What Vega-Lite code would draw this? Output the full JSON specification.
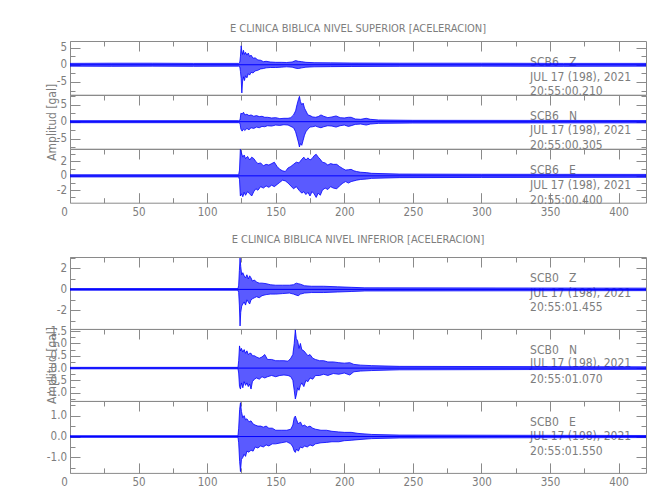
{
"$schema":"https://vega.github.io/schema/vega-lite/v6.json",
"padding":{"left":44,"top":22,"right":4,"bottom":4},
"background":"white",
"config":{
 "font":"Liberation Sans Narrow, DejaVu Sans Condensed, sans-serif",
 "view":{"stroke":"#8a8a8a","strokeWidth":1},
 "axis":{"domain":false,"grid":false,"tickColor":"#8a8a8a","tickWidth":1,"labelColor":"#7d7d7d","labelFontSize":11.5,"titleColor":"#7d7d7d","titleFontSize":12,"titleFontWeight":"normal"},
 "title":{"fontSize":11,"fontWeight":"normal","color":"#7d7d7d","offset":7,"baseline":"alphabetic","frame":"group","anchor":"middle"}
},
"datasets":{
"w":[
{"p":"A1","t":0,"lo":-0.4,"hi":0.4},{"p":"A1","t":30,"lo":-0.45,"hi":0.45},{"p":"A1","t":60,"lo":-0.4,"hi":0.45},{"p":"A1","t":90,"lo":-0.45,"hi":0.4},{"p":"A1","t":123,"lo":-0.4,"hi":0.4},{"p":"A1","t":123.8,"lo":-0.6,"hi":0.7},{"p":"A1","t":124.3,"lo":-2,"hi":2.5},{"p":"A1","t":124.8,"lo":-4,"hi":5.5},{"p":"A1","t":125.3,"lo":-8.2,"hi":4},{"p":"A1","t":125.8,"lo":-5,"hi":3},{"p":"A1","t":126.5,"lo":-3.5,"hi":4.2},{"p":"A1","t":127.2,"lo":-4.6,"hi":3},{"p":"A1","t":128,"lo":-3.2,"hi":3.6},{"p":"A1","t":129,"lo":-3.8,"hi":2.8},{"p":"A1","t":130,"lo":-2.6,"hi":3.4},{"p":"A1","t":131,"lo":-3,"hi":2.4},{"p":"A1","t":132,"lo":-2.2,"hi":2.8},{"p":"A1","t":133.5,"lo":-2.4,"hi":1.9},{"p":"A1","t":135,"lo":-1.8,"hi":2},{"p":"A1","t":137,"lo":-1.6,"hi":1.4},{"p":"A1","t":139,"lo":-1.2,"hi":1.3},{"p":"A1","t":141,"lo":-1.1,"hi":0.9},{"p":"A1","t":143,"lo":-0.9,"hi":1},{"p":"A1","t":146,"lo":-0.8,"hi":0.8},{"p":"A1","t":150,"lo":-0.8,"hi":0.7},{"p":"A1","t":154,"lo":-0.7,"hi":0.7},{"p":"A1","t":158,"lo":-0.6,"hi":0.65},{"p":"A1","t":162,"lo":-0.7,"hi":0.8},{"p":"A1","t":164.5,"lo":-1,"hi":1.2},{"p":"A1","t":166.5,"lo":-1.1,"hi":1},{"p":"A1","t":169,"lo":-0.9,"hi":0.9},{"p":"A1","t":172,"lo":-0.7,"hi":0.7},{"p":"A1","t":178,"lo":-0.6,"hi":0.6},{"p":"A1","t":190,"lo":-0.55,"hi":0.55},{"p":"A1","t":205,"lo":-0.5,"hi":0.5},{"p":"A1","t":240,"lo":-0.45,"hi":0.45},{"p":"A1","t":300,"lo":-0.4,"hi":0.45},{"p":"A1","t":360,"lo":-0.45,"hi":0.4},{"p":"A1","t":420,"lo":-0.4,"hi":0.4},
{"p":"A2","t":0,"lo":-0.3,"hi":0.3},{"p":"A2","t":123,"lo":-0.3,"hi":0.3},{"p":"A2","t":124,"lo":-0.5,"hi":0.5},{"p":"A2","t":124.6,"lo":-2.2,"hi":2.5},{"p":"A2","t":125.5,"lo":-2.8,"hi":2.3},{"p":"A2","t":126.5,"lo":-2.2,"hi":2.8},{"p":"A2","t":127.5,"lo":-2.6,"hi":2},{"p":"A2","t":129,"lo":-2,"hi":2.2},{"p":"A2","t":130.5,"lo":-2.4,"hi":1.8},{"p":"A2","t":132,"lo":-1.8,"hi":2},{"p":"A2","t":134,"lo":-2,"hi":1.6},{"p":"A2","t":136,"lo":-1.6,"hi":1.8},{"p":"A2","t":138,"lo":-1.8,"hi":1.5},{"p":"A2","t":140,"lo":-1.4,"hi":1.6},{"p":"A2","t":142,"lo":-1.5,"hi":1.3},{"p":"A2","t":144,"lo":-1.2,"hi":1.3},{"p":"A2","t":147,"lo":-1.3,"hi":1.1},{"p":"A2","t":150,"lo":-1,"hi":1.2},{"p":"A2","t":153,"lo":-1.1,"hi":0.9},{"p":"A2","t":156,"lo":-0.9,"hi":1},{"p":"A2","t":159,"lo":-1,"hi":1},{"p":"A2","t":161,"lo":-1.4,"hi":1.2},{"p":"A2","t":163,"lo":-1.8,"hi":2},{"p":"A2","t":164.5,"lo":-3,"hi":3.2},{"p":"A2","t":165.5,"lo":-4.5,"hi":5},{"p":"A2","t":166.5,"lo":-6,"hi":6.5},{"p":"A2","t":167.3,"lo":-7.5,"hi":7.5},{"p":"A2","t":168,"lo":-6.5,"hi":6},{"p":"A2","t":169,"lo":-7,"hi":5},{"p":"A2","t":170,"lo":-5.5,"hi":5.5},{"p":"A2","t":171,"lo":-4,"hi":4},{"p":"A2","t":172,"lo":-3,"hi":3.2},{"p":"A2","t":173.5,"lo":-2.2,"hi":2},{"p":"A2","t":175,"lo":-1.6,"hi":1.8},{"p":"A2","t":177,"lo":-1.5,"hi":1.4},{"p":"A2","t":179,"lo":-1.3,"hi":1.3},{"p":"A2","t":181,"lo":-1.6,"hi":1.5},{"p":"A2","t":183,"lo":-1.8,"hi":2},{"p":"A2","t":185,"lo":-1.5,"hi":1.6},{"p":"A2","t":188,"lo":-1.2,"hi":1.2},{"p":"A2","t":191,"lo":-1.3,"hi":1.4},{"p":"A2","t":194,"lo":-1.6,"hi":1.7},{"p":"A2","t":197,"lo":-1.2,"hi":1.2},{"p":"A2","t":200,"lo":-1,"hi":1.1},{"p":"A2","t":203,"lo":-1.4,"hi":1.3},{"p":"A2","t":205,"lo":-1.2,"hi":1.3},{"p":"A2","t":208,"lo":-0.8,"hi":0.8},{"p":"A2","t":212,"lo":-0.7,"hi":0.7},{"p":"A2","t":216,"lo":-1,"hi":1},{"p":"A2","t":219,"lo":-0.7,"hi":0.7},{"p":"A2","t":225,"lo":-0.5,"hi":0.5},{"p":"A2","t":250,"lo":-0.4,"hi":0.4},{"p":"A2","t":420,"lo":-0.35,"hi":0.35},
{"p":"A3","t":0,"lo":-0.15,"hi":0.15},{"p":"A3","t":123,"lo":-0.15,"hi":0.15},{"p":"A3","t":123.6,"lo":-0.5,"hi":0.8},{"p":"A3","t":124.2,"lo":-2.8,"hi":3.7},{"p":"A3","t":125,"lo":-2.5,"hi":3.2},{"p":"A3","t":126,"lo":-2.9,"hi":2.6},{"p":"A3","t":127,"lo":-2.3,"hi":2.9},{"p":"A3","t":128,"lo":-2.7,"hi":2.4},{"p":"A3","t":129.5,"lo":-2.2,"hi":2.7},{"p":"A3","t":131,"lo":-2.5,"hi":2.2},{"p":"A3","t":132.5,"lo":-2.8,"hi":2.6},{"p":"A3","t":134,"lo":-2.2,"hi":2.4},{"p":"A3","t":135.5,"lo":-1.8,"hi":2},{"p":"A3","t":137,"lo":-2,"hi":1.7},{"p":"A3","t":139,"lo":-1.5,"hi":1.8},{"p":"A3","t":141,"lo":-1.7,"hi":1.4},{"p":"A3","t":143,"lo":-1.4,"hi":1.6},{"p":"A3","t":145,"lo":-1.6,"hi":1.5},{"p":"A3","t":147,"lo":-1.3,"hi":1.7},{"p":"A3","t":149,"lo":-1.5,"hi":1.9},{"p":"A3","t":151,"lo":-1.2,"hi":1.3},{"p":"A3","t":153,"lo":-0.9,"hi":0.9},{"p":"A3","t":155,"lo":-0.6,"hi":0.7},{"p":"A3","t":157,"lo":-0.7,"hi":0.6},{"p":"A3","t":159,"lo":-1,"hi":1.1},{"p":"A3","t":161,"lo":-1.4,"hi":1.3},{"p":"A3","t":163,"lo":-1.8,"hi":1.6},{"p":"A3","t":165,"lo":-1.5,"hi":1.9},{"p":"A3","t":167,"lo":-2,"hi":1.8},{"p":"A3","t":169,"lo":-2.4,"hi":2.3},{"p":"A3","t":170.5,"lo":-2.2,"hi":2.6},{"p":"A3","t":172,"lo":-2.6,"hi":2.2},{"p":"A3","t":173.5,"lo":-2.3,"hi":2.5},{"p":"A3","t":175,"lo":-2.8,"hi":2.2},{"p":"A3","t":176.5,"lo":-2.2,"hi":2.4},{"p":"A3","t":178,"lo":-2.5,"hi":2.8},{"p":"A3","t":179.5,"lo":-3,"hi":3},{"p":"A3","t":181,"lo":-2.4,"hi":2.6},{"p":"A3","t":182.5,"lo":-2.7,"hi":2.3},{"p":"A3","t":184,"lo":-2,"hi":1.9},{"p":"A3","t":186,"lo":-1.7,"hi":1.8},{"p":"A3","t":188,"lo":-1.9,"hi":1.5},{"p":"A3","t":190,"lo":-1.5,"hi":1.7},{"p":"A3","t":192,"lo":-1.7,"hi":1.6},{"p":"A3","t":194.5,"lo":-1.8,"hi":1.6},{"p":"A3","t":196.5,"lo":-1.4,"hi":1.3},{"p":"A3","t":199,"lo":-1,"hi":1},{"p":"A3","t":201,"lo":-0.8,"hi":0.8},{"p":"A3","t":203,"lo":-1,"hi":0.85},{"p":"A3","t":205,"lo":-0.8,"hi":0.9},{"p":"A3","t":207,"lo":-0.7,"hi":0.7},{"p":"A3","t":209,"lo":-0.6,"hi":0.6},{"p":"A3","t":212,"lo":-0.5,"hi":0.5},{"p":"A3","t":216,"lo":-0.45,"hi":0.45},{"p":"A3","t":220,"lo":-0.35,"hi":0.35},{"p":"A3","t":240,"lo":-0.25,"hi":0.25},{"p":"A3","t":300,"lo":-0.22,"hi":0.22},{"p":"A3","t":420,"lo":-0.2,"hi":0.2},
{"p":"B1","t":0,"lo":-0.08,"hi":0.08},{"p":"B1","t":122.5,"lo":-0.08,"hi":0.08},{"p":"B1","t":123,"lo":-0.3,"hi":0.4},{"p":"B1","t":123.5,"lo":-1.5,"hi":1.8},{"p":"B1","t":124,"lo":-3.5,"hi":3},{"p":"B1","t":124.5,"lo":-2.2,"hi":2.2},{"p":"B1","t":125.2,"lo":-1.6,"hi":1.4},{"p":"B1","t":126,"lo":-1.4,"hi":1.6},{"p":"B1","t":127,"lo":-1.2,"hi":1.3},{"p":"B1","t":128,"lo":-1.5,"hi":1.1},{"p":"B1","t":129,"lo":-1,"hi":1.4},{"p":"B1","t":130,"lo":-1.2,"hi":1},{"p":"B1","t":131,"lo":-1.4,"hi":1.3},{"p":"B1","t":132,"lo":-1,"hi":1.1},{"p":"B1","t":133,"lo":-0.9,"hi":0.8},{"p":"B1","t":134.5,"lo":-0.8,"hi":0.9},{"p":"B1","t":136,"lo":-0.7,"hi":0.7},{"p":"B1","t":138,"lo":-0.8,"hi":0.6},{"p":"B1","t":140,"lo":-0.6,"hi":0.6},{"p":"B1","t":143,"lo":-0.5,"hi":0.55},{"p":"B1","t":146,"lo":-0.45,"hi":0.45},{"p":"B1","t":150,"lo":-0.45,"hi":0.4},{"p":"B1","t":155,"lo":-0.4,"hi":0.4},{"p":"B1","t":160,"lo":-0.35,"hi":0.4},{"p":"B1","t":163,"lo":-0.45,"hi":0.45},{"p":"B1","t":165,"lo":-0.55,"hi":0.6},{"p":"B1","t":166.5,"lo":-0.6,"hi":0.55},{"p":"B1","t":168,"lo":-0.45,"hi":0.5},{"p":"B1","t":171,"lo":-0.35,"hi":0.35},{"p":"B1","t":176,"lo":-0.3,"hi":0.3},{"p":"B1","t":185,"lo":-0.3,"hi":0.3},{"p":"B1","t":195,"lo":-0.25,"hi":0.25},{"p":"B1","t":205,"lo":-0.2,"hi":0.2},{"p":"B1","t":215,"lo":-0.15,"hi":0.15},{"p":"B1","t":420,"lo":-0.12,"hi":0.12},
{"p":"B2","t":0,"lo":-0.03,"hi":0.03},{"p":"B2","t":122.5,"lo":-0.03,"hi":0.03},{"p":"B2","t":123,"lo":-0.2,"hi":0.3},{"p":"B2","t":123.6,"lo":-0.75,"hi":0.9},{"p":"B2","t":124.3,"lo":-0.85,"hi":0.7},{"p":"B2","t":125,"lo":-0.6,"hi":0.8},{"p":"B2","t":126,"lo":-0.8,"hi":0.65},{"p":"B2","t":127,"lo":-0.55,"hi":0.75},{"p":"B2","t":128,"lo":-0.7,"hi":0.6},{"p":"B2","t":129,"lo":-0.6,"hi":0.7},{"p":"B2","t":130,"lo":-0.75,"hi":0.55},{"p":"B2","t":131,"lo":-0.65,"hi":0.6},{"p":"B2","t":132,"lo":-0.85,"hi":0.6},{"p":"B2","t":133,"lo":-0.55,"hi":0.5},{"p":"B2","t":134.5,"lo":-0.45,"hi":0.5},{"p":"B2","t":136,"lo":-0.4,"hi":0.45},{"p":"B2","t":138,"lo":-0.45,"hi":0.4},{"p":"B2","t":140,"lo":-0.35,"hi":0.45},{"p":"B2","t":142,"lo":-0.4,"hi":0.55},{"p":"B2","t":144,"lo":-0.35,"hi":0.35},{"p":"B2","t":147,"lo":-0.3,"hi":0.35},{"p":"B2","t":150,"lo":-0.35,"hi":0.3},{"p":"B2","t":153,"lo":-0.3,"hi":0.3},{"p":"B2","t":156,"lo":-0.28,"hi":0.3},{"p":"B2","t":159,"lo":-0.3,"hi":0.28},{"p":"B2","t":161,"lo":-0.35,"hi":0.4},{"p":"B2","t":162.5,"lo":-0.5,"hi":0.55},{"p":"B2","t":163.5,"lo":-0.9,"hi":1},{"p":"B2","t":164.3,"lo":-1.25,"hi":1.55},{"p":"B2","t":165,"lo":-1.1,"hi":1.2},{"p":"B2","t":166,"lo":-0.8,"hi":1.1},{"p":"B2","t":167,"lo":-0.9,"hi":0.8},{"p":"B2","t":168,"lo":-0.7,"hi":1},{"p":"B2","t":169,"lo":-0.6,"hi":0.75},{"p":"B2","t":170.5,"lo":-0.75,"hi":0.7},{"p":"B2","t":172,"lo":-0.5,"hi":0.6},{"p":"B2","t":173.5,"lo":-0.55,"hi":0.5},{"p":"B2","t":175,"lo":-0.4,"hi":0.55},{"p":"B2","t":177,"lo":-0.45,"hi":0.4},{"p":"B2","t":179,"lo":-0.3,"hi":0.35},{"p":"B2","t":182,"lo":-0.3,"hi":0.3},{"p":"B2","t":185,"lo":-0.25,"hi":0.3},{"p":"B2","t":188,"lo":-0.3,"hi":0.25},{"p":"B2","t":192,"lo":-0.22,"hi":0.25},{"p":"B2","t":196,"lo":-0.25,"hi":0.22},{"p":"B2","t":200,"lo":-0.2,"hi":0.2},{"p":"B2","t":204,"lo":-0.28,"hi":0.22},{"p":"B2","t":207,"lo":-0.15,"hi":0.15},{"p":"B2","t":212,"lo":-0.12,"hi":0.12},{"p":"B2","t":220,"lo":-0.1,"hi":0.1},{"p":"B2","t":240,"lo":-0.07,"hi":0.07},{"p":"B2","t":420,"lo":-0.05,"hi":0.05},
{"p":"B3","t":0,"lo":-0.04,"hi":0.04},{"p":"B3","t":122.5,"lo":-0.04,"hi":0.04},{"p":"B3","t":123,"lo":-0.3,"hi":0.4},{"p":"B3","t":123.7,"lo":-1.2,"hi":1.3},{"p":"B3","t":124.3,"lo":-1.68,"hi":1.62},{"p":"B3","t":125,"lo":-1.1,"hi":1.2},{"p":"B3","t":126,"lo":-1,"hi":0.9},{"p":"B3","t":127,"lo":-0.85,"hi":1},{"p":"B3","t":128,"lo":-0.95,"hi":0.8},{"p":"B3","t":129,"lo":-0.7,"hi":0.85},{"p":"B3","t":130.5,"lo":-0.75,"hi":0.7},{"p":"B3","t":132,"lo":-0.65,"hi":0.75},{"p":"B3","t":133.5,"lo":-0.7,"hi":0.6},{"p":"B3","t":135,"lo":-0.5,"hi":0.55},{"p":"B3","t":137,"lo":-0.55,"hi":0.5},{"p":"B3","t":139,"lo":-0.45,"hi":0.5},{"p":"B3","t":141,"lo":-0.5,"hi":0.45},{"p":"B3","t":143,"lo":-0.4,"hi":0.5},{"p":"B3","t":145,"lo":-0.45,"hi":0.4},{"p":"B3","t":147.5,"lo":-0.35,"hi":0.4},{"p":"B3","t":150,"lo":-0.35,"hi":0.3},{"p":"B3","t":154,"lo":-0.3,"hi":0.3},{"p":"B3","t":158,"lo":-0.25,"hi":0.3},{"p":"B3","t":161,"lo":-0.35,"hi":0.35},{"p":"B3","t":162.5,"lo":-0.5,"hi":0.55},{"p":"B3","t":163.5,"lo":-0.7,"hi":0.9},{"p":"B3","t":164.3,"lo":-0.76,"hi":0.98},{"p":"B3","t":165.2,"lo":-0.6,"hi":0.8},{"p":"B3","t":166.5,"lo":-0.7,"hi":0.6},{"p":"B3","t":168,"lo":-0.5,"hi":0.7},{"p":"B3","t":169.5,"lo":-0.55,"hi":0.5},{"p":"B3","t":171,"lo":-0.45,"hi":0.55},{"p":"B3","t":173,"lo":-0.5,"hi":0.45},{"p":"B3","t":175,"lo":-0.4,"hi":0.5},{"p":"B3","t":177,"lo":-0.45,"hi":0.4},{"p":"B3","t":179,"lo":-0.35,"hi":0.35},{"p":"B3","t":183,"lo":-0.3,"hi":0.3},{"p":"B3","t":187,"lo":-0.28,"hi":0.3},{"p":"B3","t":191,"lo":-0.25,"hi":0.25},{"p":"B3","t":196,"lo":-0.25,"hi":0.22},{"p":"B3","t":200,"lo":-0.2,"hi":0.2},{"p":"B3","t":205,"lo":-0.18,"hi":0.2},{"p":"B3","t":210,"lo":-0.15,"hi":0.15},{"p":"B3","t":220,"lo":-0.1,"hi":0.1},{"p":"B3","t":240,"lo":-0.07,"hi":0.07},{"p":"B3","t":420,"lo":-0.05,"hi":0.05}
],
"lab":[
{"p":"A1","t":335.5,"y":0.76,"s":"SCB6\u00a0\u00a0\u00a0Z"},{"p":"A1","t":335.5,"y":-3.46,"s":"JUL 17 (198), 2021"},{"p":"A1","t":335.5,"y":-7.56,"s":"20:55:00.210"},
{"p":"A2","t":335.5,"y":1.76,"s":"SCB6\u00a0\u00a0\u00a0N"},{"p":"A2","t":335.5,"y":-2.59,"s":"JUL 17 (198), 2021"},{"p":"A2","t":335.5,"y":-6.76,"s":"20:55:00.305"},
{"p":"A3","t":335.5,"y":0.77,"s":"SCB6\u00a0\u00a0\u00a0E"},{"p":"A3","t":335.5,"y":-1.23,"s":"JUL 17 (198), 2021"},{"p":"A3","t":335.5,"y":-3.29,"s":"20:55:00.400"},
{"p":"B1","t":335.5,"y":1.09,"s":"SCB0\u00a0\u00a0\u00a0Z"},{"p":"B1","t":335.5,"y":-0.32,"s":"JUL 17 (198), 2021"},{"p":"B1","t":335.5,"y":-1.7,"s":"20:55:01.455"},
{"p":"B2","t":335.5,"y":0.73,"s":"SCB0\u00a0\u00a0\u00a0N"},{"p":"B2","t":335.5,"y":0.19,"s":"JUL 17 (198), 2021"},{"p":"B2","t":335.5,"y":-0.45,"s":"20:55:01.070"},
{"p":"B3","t":335.5,"y":0.71,"s":"SCB0\u00a0\u00a0\u00a0E"},{"p":"B3","t":335.5,"y":0.03,"s":"JUL 17 (198), 2021"},{"p":"B3","t":335.5,"y":-0.68,"s":"20:55:01.550"}
]
},
"spacing":9,
"vconcat":[
{"spacing":0,"bounds":"flush","vconcat":[
 {"width":576,"height":53.7,"title":"E CLINICA BIBLICA NIVEL SUPERIOR [ACELERACION]","data":{"name":"w"},
  "resolve":{"axis":{"x":"independent","y":"independent"}},
  "layer":[
   {"data":{"name":"lab"},"transform":[{"filter":"datum.p==='A1'"}],"mark":{"type":"text","align":"left","baseline":"middle","fontSize":12,"color":"#7d7d7d"},
    "encoding":{"x":{"field":"t","type":"quantitative","axis":null},"y":{"field":"y","type":"quantitative","axis":{"orient":"right","values":[-7.5,-5,-2.5,0,2.5,5],"labels":false,"title":null,"tickSize":{"condition":{"test":"datum.value % 5 === 0","value":-10},"value":-5}}},"text":{"field":"s"}}},
   {"transform":[{"filter":"datum.p==='A1'"}],"mark":{"type":"area","fill":"#1a1aff","fillOpacity":0.72,"stroke":"#0000ff","strokeWidth":0.8,"clip":true},
    "encoding":{"x":{"field":"t","type":"quantitative","scale":{"domain":[0,420],"nice":false,"zero":false},"axis":{"orient":"top","values":[0,25,50,75,100,125,150,175,200,225,250,275,300,325,350,375,400],"labels":false,"title":null,"tickSize":{"condition":{"test":"datum.value % 50 === 0","value":-10},"value":-5}}},
     "y":{"field":"lo","type":"quantitative","scale":{"domain":[-8.7,6.9],"nice":false,"zero":false},"axis":{"orient":"left","values":[-7.5,-5,-2.5,0,2.5,5],"title":null,"labelPadding":13.5,"labelOverlap":false,"labelExpr":"datum.value % 5 === 0 ? replace(datum.label,'\u2212','-') : ''","tickSize":{"condition":{"test":"datum.value % 5 === 0","value":-10},"value":-5}}},
     "y2":{"field":"hi"}}},
   {"transform":[{"filter":"datum.p==='A1' && datum.t===0"}],"mark":{"type":"rule","color":"#0000ff","strokeWidth":1},"encoding":{"y":{"datum":0,"type":"quantitative","axis":null}}}
  ]},
 {"width":576,"height":53.7,"data":{"name":"w"},
  "resolve":{"axis":{"x":"independent","y":"independent"}},
  "layer":[
   {"data":{"name":"lab"},"transform":[{"filter":"datum.p==='A2'"}],"mark":{"type":"text","align":"left","baseline":"middle","fontSize":12,"color":"#7d7d7d"},
    "encoding":{"x":{"field":"t","type":"quantitative","axis":null},"y":{"field":"y","type":"quantitative","axis":{"orient":"right","values":[-7.5,-5,-2.5,0,2.5,5,7.5],"labels":false,"title":null,"tickSize":{"condition":{"test":"datum.value % 5 === 0","value":-10},"value":-5}}},"text":{"field":"s"}}},
   {"transform":[{"filter":"datum.p==='A2'"}],"mark":{"type":"area","fill":"#1a1aff","fillOpacity":0.72,"stroke":"#0000ff","strokeWidth":0.8,"clip":true},
    "encoding":{"x":{"field":"t","type":"quantitative","scale":{"domain":[0,420],"nice":false,"zero":false},"axis":{"orient":"top","values":[0,25,50,75,100,125,150,175,200,225,250,275,300,325,350,375,400],"labels":false,"title":null,"tickSize":{"condition":{"test":"datum.value % 50 === 0","value":-10},"value":-5}}},
     "y":{"field":"lo","type":"quantitative","scale":{"domain":[-8,7.9],"nice":false,"zero":false},"axis":{"orient":"left","values":[-7.5,-5,-2.5,0,2.5,5,7.5],"title":"Amplitud [gal]","titleX":-18.5,"titleY":26.85,"titleAngle":270,"titleAlign":"center","titleBaseline":"middle","labelPadding":13.5,"labelOverlap":false,"labelExpr":"datum.value % 5 === 0 ? replace(datum.label,'\u2212','-') : ''","tickSize":{"condition":{"test":"datum.value % 5 === 0","value":-10},"value":-5}}},
     "y2":{"field":"hi"}}},
   {"transform":[{"filter":"datum.p==='A2' && datum.t===0"}],"mark":{"type":"rule","color":"#0000ff","strokeWidth":1},"encoding":{"y":{"datum":0,"type":"quantitative","axis":null}}}
  ]},
 {"width":576,"height":53.7,"data":{"name":"w"},
  "resolve":{"axis":{"x":"independent","y":"independent"}},
  "layer":[
   {"data":{"name":"lab"},"transform":[{"filter":"datum.p==='A3'"}],"mark":{"type":"text","align":"left","baseline":"middle","fontSize":12,"color":"#7d7d7d"},
    "encoding":{"x":{"field":"t","type":"quantitative","axis":{"orient":"bottom","values":[0,25,50,75,100,125,150,175,200,225,250,275,300,325,350,375,400],"title":null,"labelPadding":14,"labelFlush":false,"labelOverlap":false,"labelExpr":"datum.value % 50 === 0 ? datum.label : ''","labelOffset":{"condition":{"test":"datum.value === 0","value":-6},"value":0},"tickSize":{"condition":{"test":"datum.value % 50 === 0","value":-10},"value":-5}}},
     "y":{"field":"y","type":"quantitative","axis":{"orient":"right","values":[-3,-2,-1,0,1,2,3],"labels":false,"title":null,"tickSize":{"condition":{"test":"datum.value % 2 === 0","value":-10},"value":-5}}},"text":{"field":"s"}}},
   {"transform":[{"filter":"datum.p==='A3'"}],"mark":{"type":"area","fill":"#1a1aff","fillOpacity":0.72,"stroke":"#0000ff","strokeWidth":0.8,"clip":true},
    "encoding":{"x":{"field":"t","type":"quantitative","scale":{"domain":[0,420],"nice":false,"zero":false},"axis":{"orient":"top","values":[0,25,50,75,100,125,150,175,200,225,250,275,300,325,350,375,400],"labels":false,"title":null,"tickSize":{"condition":{"test":"datum.value % 50 === 0","value":-10},"value":-5}}},
     "y":{"field":"lo","type":"quantitative","scale":{"domain":[-3.73,3.73],"nice":false,"zero":false},"axis":{"orient":"left","values":[-3,-2,-1,0,1,2,3],"title":null,"labelPadding":13.5,"labelOverlap":false,"labelExpr":"datum.value % 2 === 0 ? replace(datum.label,'\u2212','-') : ''","tickSize":{"condition":{"test":"datum.value % 2 === 0","value":-10},"value":-5}}},
     "y2":{"field":"hi"}}},
   {"transform":[{"filter":"datum.p==='A3' && datum.t===0"}],"mark":{"type":"rule","color":"#0000ff","strokeWidth":1},"encoding":{"y":{"datum":0,"type":"quantitative","axis":null}}}
  ]}
]},
{"spacing":0,"bounds":"flush","vconcat":[
 {"width":576,"height":71.9,"title":"E CLINICA BIBLICA NIVEL INFERIOR [ACELERACION]","data":{"name":"w"},
  "resolve":{"axis":{"x":"independent","y":"independent"}},
  "layer":[
   {"data":{"name":"lab"},"transform":[{"filter":"datum.p==='B1'"}],"mark":{"type":"text","align":"left","baseline":"middle","fontSize":12,"color":"#7d7d7d"},
    "encoding":{"x":{"field":"t","type":"quantitative","axis":null},"y":{"field":"y","type":"quantitative","axis":{"orient":"right","values":[-3,-2,-1,0,1,2,3],"labels":false,"title":null,"tickSize":{"condition":{"test":"datum.value % 2 === 0","value":-10},"value":-5}}},"text":{"field":"s"}}},
   {"transform":[{"filter":"datum.p==='B1'"}],"mark":{"type":"area","fill":"#1a1aff","fillOpacity":0.72,"stroke":"#0000ff","strokeWidth":0.8,"clip":true},
    "encoding":{"x":{"field":"t","type":"quantitative","scale":{"domain":[0,420],"nice":false,"zero":false},"axis":{"orient":"top","values":[0,25,50,75,100,125,150,175,200,225,250,275,300,325,350,375,400],"labels":false,"title":null,"tickSize":{"condition":{"test":"datum.value % 50 === 0","value":-10},"value":-5}}},
     "y":{"field":"lo","type":"quantitative","scale":{"domain":[-3.78,3.1],"nice":false,"zero":false},"axis":{"orient":"left","values":[-3,-2,-1,0,1,2,3],"title":null,"labelPadding":13.5,"labelOverlap":false,"labelExpr":"datum.value % 2 === 0 ? replace(datum.label,'\u2212','-') : ''","tickSize":{"condition":{"test":"datum.value % 2 === 0","value":-10},"value":-5}}},
     "y2":{"field":"hi"}}},
   {"transform":[{"filter":"datum.p==='B1' && datum.t===0"}],"mark":{"type":"rule","color":"#0000ff","strokeWidth":1},"encoding":{"y":{"datum":0,"type":"quantitative","axis":null}}}
  ]},
 {"width":576,"height":71.9,"data":{"name":"w"},
  "resolve":{"axis":{"x":"independent","y":"independent"}},
  "layer":[
   {"data":{"name":"lab"},"transform":[{"filter":"datum.p==='B2'"}],"mark":{"type":"text","align":"left","baseline":"middle","fontSize":12,"color":"#7d7d7d"},
    "encoding":{"x":{"field":"t","type":"quantitative","axis":null},"y":{"field":"y","type":"quantitative","axis":{"orient":"right","values":[-1.25,-1,-0.75,-0.5,-0.25,0,0.25,0.5,0.75,1,1.25,1.5],"labels":false,"title":null,"tickSize":{"condition":{"test":"abs(datum.value*2-round(datum.value*2)) < 0.001","value":-10},"value":-5}}},"text":{"field":"s"}}},
   {"transform":[{"filter":"datum.p==='B2'"}],"mark":{"type":"area","fill":"#1a1aff","fillOpacity":0.72,"stroke":"#0000ff","strokeWidth":0.8,"clip":true},
    "encoding":{"x":{"field":"t","type":"quantitative","scale":{"domain":[0,420],"nice":false,"zero":false},"axis":{"orient":"top","values":[0,25,50,75,100,125,150,175,200,225,250,275,300,325,350,375,400],"labels":false,"title":null,"tickSize":{"condition":{"test":"datum.value % 50 === 0","value":-10},"value":-5}}},
     "y":{"field":"lo","type":"quantitative","scale":{"domain":[-1.33,1.585],"nice":false,"zero":false},"axis":{"orient":"left","values":[-1.25,-1,-0.75,-0.5,-0.25,0,0.25,0.5,0.75,1,1.25,1.5],"format":".1f","title":"Amplitud [gal]","titleX":-18.5,"titleY":35.95,"titleAngle":270,"titleAlign":"center","titleBaseline":"middle","labelPadding":13.5,"labelOverlap":false,"labelExpr":"abs(datum.value*2-round(datum.value*2)) < 0.001 ? replace(datum.label,'\u2212','-') : ''","tickSize":{"condition":{"test":"abs(datum.value*2-round(datum.value*2)) < 0.001","value":-10},"value":-5}}},
     "y2":{"field":"hi"}}},
   {"transform":[{"filter":"datum.p==='B2' && datum.t===0"}],"mark":{"type":"rule","color":"#0000ff","strokeWidth":1},"encoding":{"y":{"datum":0,"type":"quantitative","axis":null}}}
  ]},
 {"width":576,"height":71.9,"data":{"name":"w"},
  "resolve":{"axis":{"x":"independent","y":"independent"}},
  "layer":[
   {"data":{"name":"lab"},"transform":[{"filter":"datum.p==='B3'"}],"mark":{"type":"text","align":"left","baseline":"middle","fontSize":12,"color":"#7d7d7d"},
    "encoding":{"x":{"field":"t","type":"quantitative","axis":{"orient":"bottom","values":[0,25,50,75,100,125,150,175,200,225,250,275,300,325,350,375,400],"title":null,"labelPadding":14,"labelFlush":false,"labelOverlap":false,"labelExpr":"datum.value % 50 === 0 ? datum.label : ''","labelOffset":{"condition":{"test":"datum.value === 0","value":-6},"value":0},"tickSize":{"condition":{"test":"datum.value % 50 === 0","value":-10},"value":-5}}},
     "y":{"field":"y","type":"quantitative","axis":{"orient":"right","values":[-1.5,-1,-0.5,0,0.5,1,1.5],"labels":false,"title":null,"tickSize":{"condition":{"test":"abs(datum.value-round(datum.value)) < 0.001","value":-10},"value":-5}}},"text":{"field":"s"}}},
   {"transform":[{"filter":"datum.p==='B3'"}],"mark":{"type":"area","fill":"#1a1aff","fillOpacity":0.72,"stroke":"#0000ff","strokeWidth":0.8,"clip":true},
    "encoding":{"x":{"field":"t","type":"quantitative","scale":{"domain":[0,420],"nice":false,"zero":false},"axis":{"orient":"top","values":[0,25,50,75,100,125,150,175,200,225,250,275,300,325,350,375,400],"labels":false,"title":null,"tickSize":{"condition":{"test":"datum.value % 50 === 0","value":-10},"value":-5}}},
     "y":{"field":"lo","type":"quantitative","scale":{"domain":[-1.74,1.7],"nice":false,"zero":false},"axis":{"orient":"left","values":[-1.5,-1,-0.5,0,0.5,1,1.5],"title":null,"labelPadding":13.5,"labelOverlap":false,"labelExpr":"abs(datum.value-round(datum.value)) < 0.001 ? replace(datum.label,'\u2212','-') : ''","tickSize":{"condition":{"test":"abs(datum.value-round(datum.value)) < 0.001","value":-10},"value":-5}}},
     "y2":{"field":"hi"}}},
   {"transform":[{"filter":"datum.p==='B3' && datum.t===0"}],"mark":{"type":"rule","color":"#0000ff","strokeWidth":1},"encoding":{"y":{"datum":0,"type":"quantitative","axis":null}}}
  ]}
]}
]
}
